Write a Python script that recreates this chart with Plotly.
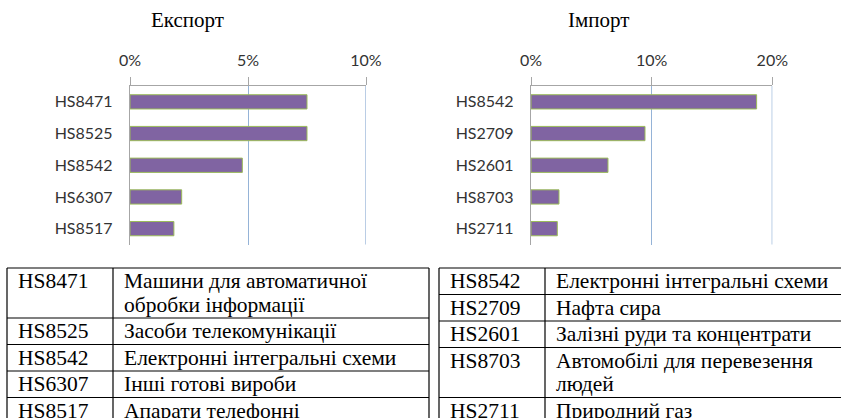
import plotly.graph_objects as go

W, H = 841, 418

# ---------------------------------------------------------------------------
# Data
# ---------------------------------------------------------------------------

export_codes = ["HS8471", "HS8525", "HS8542", "HS6307", "HS8517"]
export_share = [7.5, 7.5, 4.76, 2.19, 1.86]  # % of total export

import_codes = ["HS8542", "HS2709", "HS2601", "HS8703", "HS2711"]
import_share = [18.7, 9.45, 6.38, 2.32, 2.18]  # % of total import

export_names = [
    "Машини для автоматичної\nобробки інформації",
    "Засоби телекомунікації",
    "Електронні інтегральні схеми",
    "Інші готові вироби",
    "Апарати телефонні",
]
import_names = [
    "Електронні інтегральні схеми",
    "Нафта сира",
    "Залізні руди та концентрати",
    "Автомобілі для перевезення\nлюдей",
    "Природний газ",
]

export_ticks = [0, 5, 10]
import_ticks = [0, 10, 20]

# ---------------------------------------------------------------------------
# Styling
# ---------------------------------------------------------------------------

BAR_FILL = "#8064a2"
BAR_LINE = "#9bbb59"
GRID = "#95b3d7"
AXIS = "#a6a6a6"
SANS = "Lato"
SERIF = "Liberation Serif"
TABLE_FONT = dict(family=SERIF, size=21.5, color="black")


def px(x):
    return x / W


def py(y):
    return 1 - y / H


fig = go.Figure()

fig.add_trace(go.Bar(
    x=export_share, y=export_codes, orientation="h",
    marker=dict(color=BAR_FILL, line=dict(color=BAR_LINE, width=1)),
    xaxis="x", yaxis="y", hoverinfo="x+y",
))
fig.add_trace(go.Bar(
    x=import_share, y=import_codes, orientation="h",
    marker=dict(color=BAR_FILL, line=dict(color=BAR_LINE, width=1)),
    xaxis="x2", yaxis="y2", hoverinfo="x+y",
))

plot_top, plot_bottom = 86, 244.5


def xaxis_style(x0, x1, ticks):
    return dict(
        domain=[px(x0), px(x1)],
        side="top",
        range=[ticks[0], ticks[-1]],
        tickmode="array",
        tickvals=ticks,
        ticktext=[f"{t}%" for t in ticks],
        showgrid=True, gridcolor=GRID, gridwidth=1.3,
        showline=True, linecolor=AXIS, linewidth=1.3,
        ticks="outside", ticklen=8, tickcolor=AXIS,
        tickfont=dict(family=SANS, size=16, color="#333333"),
        ticklabelstandoff=4,
        zeroline=False, fixedrange=True, automargin=False,
    )


def yaxis_style(anchor):
    return dict(
        domain=[py(plot_bottom), py(plot_top)],
        anchor=anchor,
        autorange="reversed",
        showgrid=False,
        showline=True, linecolor=AXIS, linewidth=1.3,
        ticks="", ticklabelstandoff=13,
        tickfont=dict(family=SANS, size=16, color="#333333"),
        fixedrange=True, automargin=False,
    )


fig.update_layout(
    width=W, height=H,
    margin=dict(l=0, r=0, t=0, b=0, pad=0),
    paper_bgcolor="white", plot_bgcolor="white",
    showlegend=False,
    bargap=0.55,
    xaxis=dict(xaxis_style(130, 366, export_ticks), anchor="y"),
    yaxis=yaxis_style("x"),
    xaxis2=dict(xaxis_style(531, 772.3, import_ticks), anchor="y2"),
    yaxis2=yaxis_style("x2"),
)

# plotly skips the gridline that sits on the range end; draw it on the axis
for xref, yref, ticks in [("x", "y", export_ticks), ("x2", "y2", import_ticks)]:
    fig.add_shape(type="line", xref=xref, yref=f"{yref} domain", layer="below",
                  x0=ticks[-1], x1=ticks[-1], y0=0, y1=1,
                  line=dict(color=GRID, width=1.3))

# chart titles
for text, cx in [("Експорт", 187), ("Імпорт", 598)]:
    fig.add_annotation(
        text=text, x=px(cx), y=py(20), xref="paper", yref="paper",
        xanchor="center", yanchor="middle", showarrow=False,
        font=dict(family=SERIF, size=21, color="black"),
    )

# ---------------------------------------------------------------------------
# Tables under the charts
# ---------------------------------------------------------------------------

TABLE_TOP = 268
LINE_H = 23.5
ROW_PAD = 3
TEXT_OFF = 13


def add_table(codes, names, x0, x1, x2):
    y = TABLE_TOP
    bounds = [y]
    for code, name in zip(codes, names):
        lines = name.split("\n")
        fig.add_annotation(
            text=code, x=px(x0 + 9), y=py(y + TEXT_OFF), xref="paper", yref="paper",
            xanchor="left", yanchor="middle", showarrow=False, font=TABLE_FONT,
        )
        for i, line in enumerate(lines):
            fig.add_annotation(
                text=line, x=px(x1 + 9), y=py(y + TEXT_OFF + i * LINE_H),
                xref="paper", yref="paper",
                xanchor="left", yanchor="middle", showarrow=False, font=TABLE_FONT,
            )
        y += ROW_PAD + LINE_H * len(lines)
        bounds.append(y)
    line = dict(color="black", width=1.2)
    for b in bounds:
        fig.add_shape(type="line", xref="paper", yref="paper",
                      x0=px(x0), x1=px(x2), y0=py(b), y1=py(b), line=line)
    for xv in (x0, x1, x2):
        fig.add_shape(type="line", xref="paper", yref="paper",
                      x0=px(xv), x1=px(xv), y0=py(bounds[0]), y1=py(bounds[-1]),
                      line=line)


add_table(export_codes, export_names, 7, 113, 429)
add_table(import_codes, import_names, 439, 545, 861)

# the page body has a default 8px margin; drop it so the figure fills the window
fig.write_html(
    "out.html",
    config={"displayModeBar": False},
    post_script="document.body.style.margin = '0';",
)
